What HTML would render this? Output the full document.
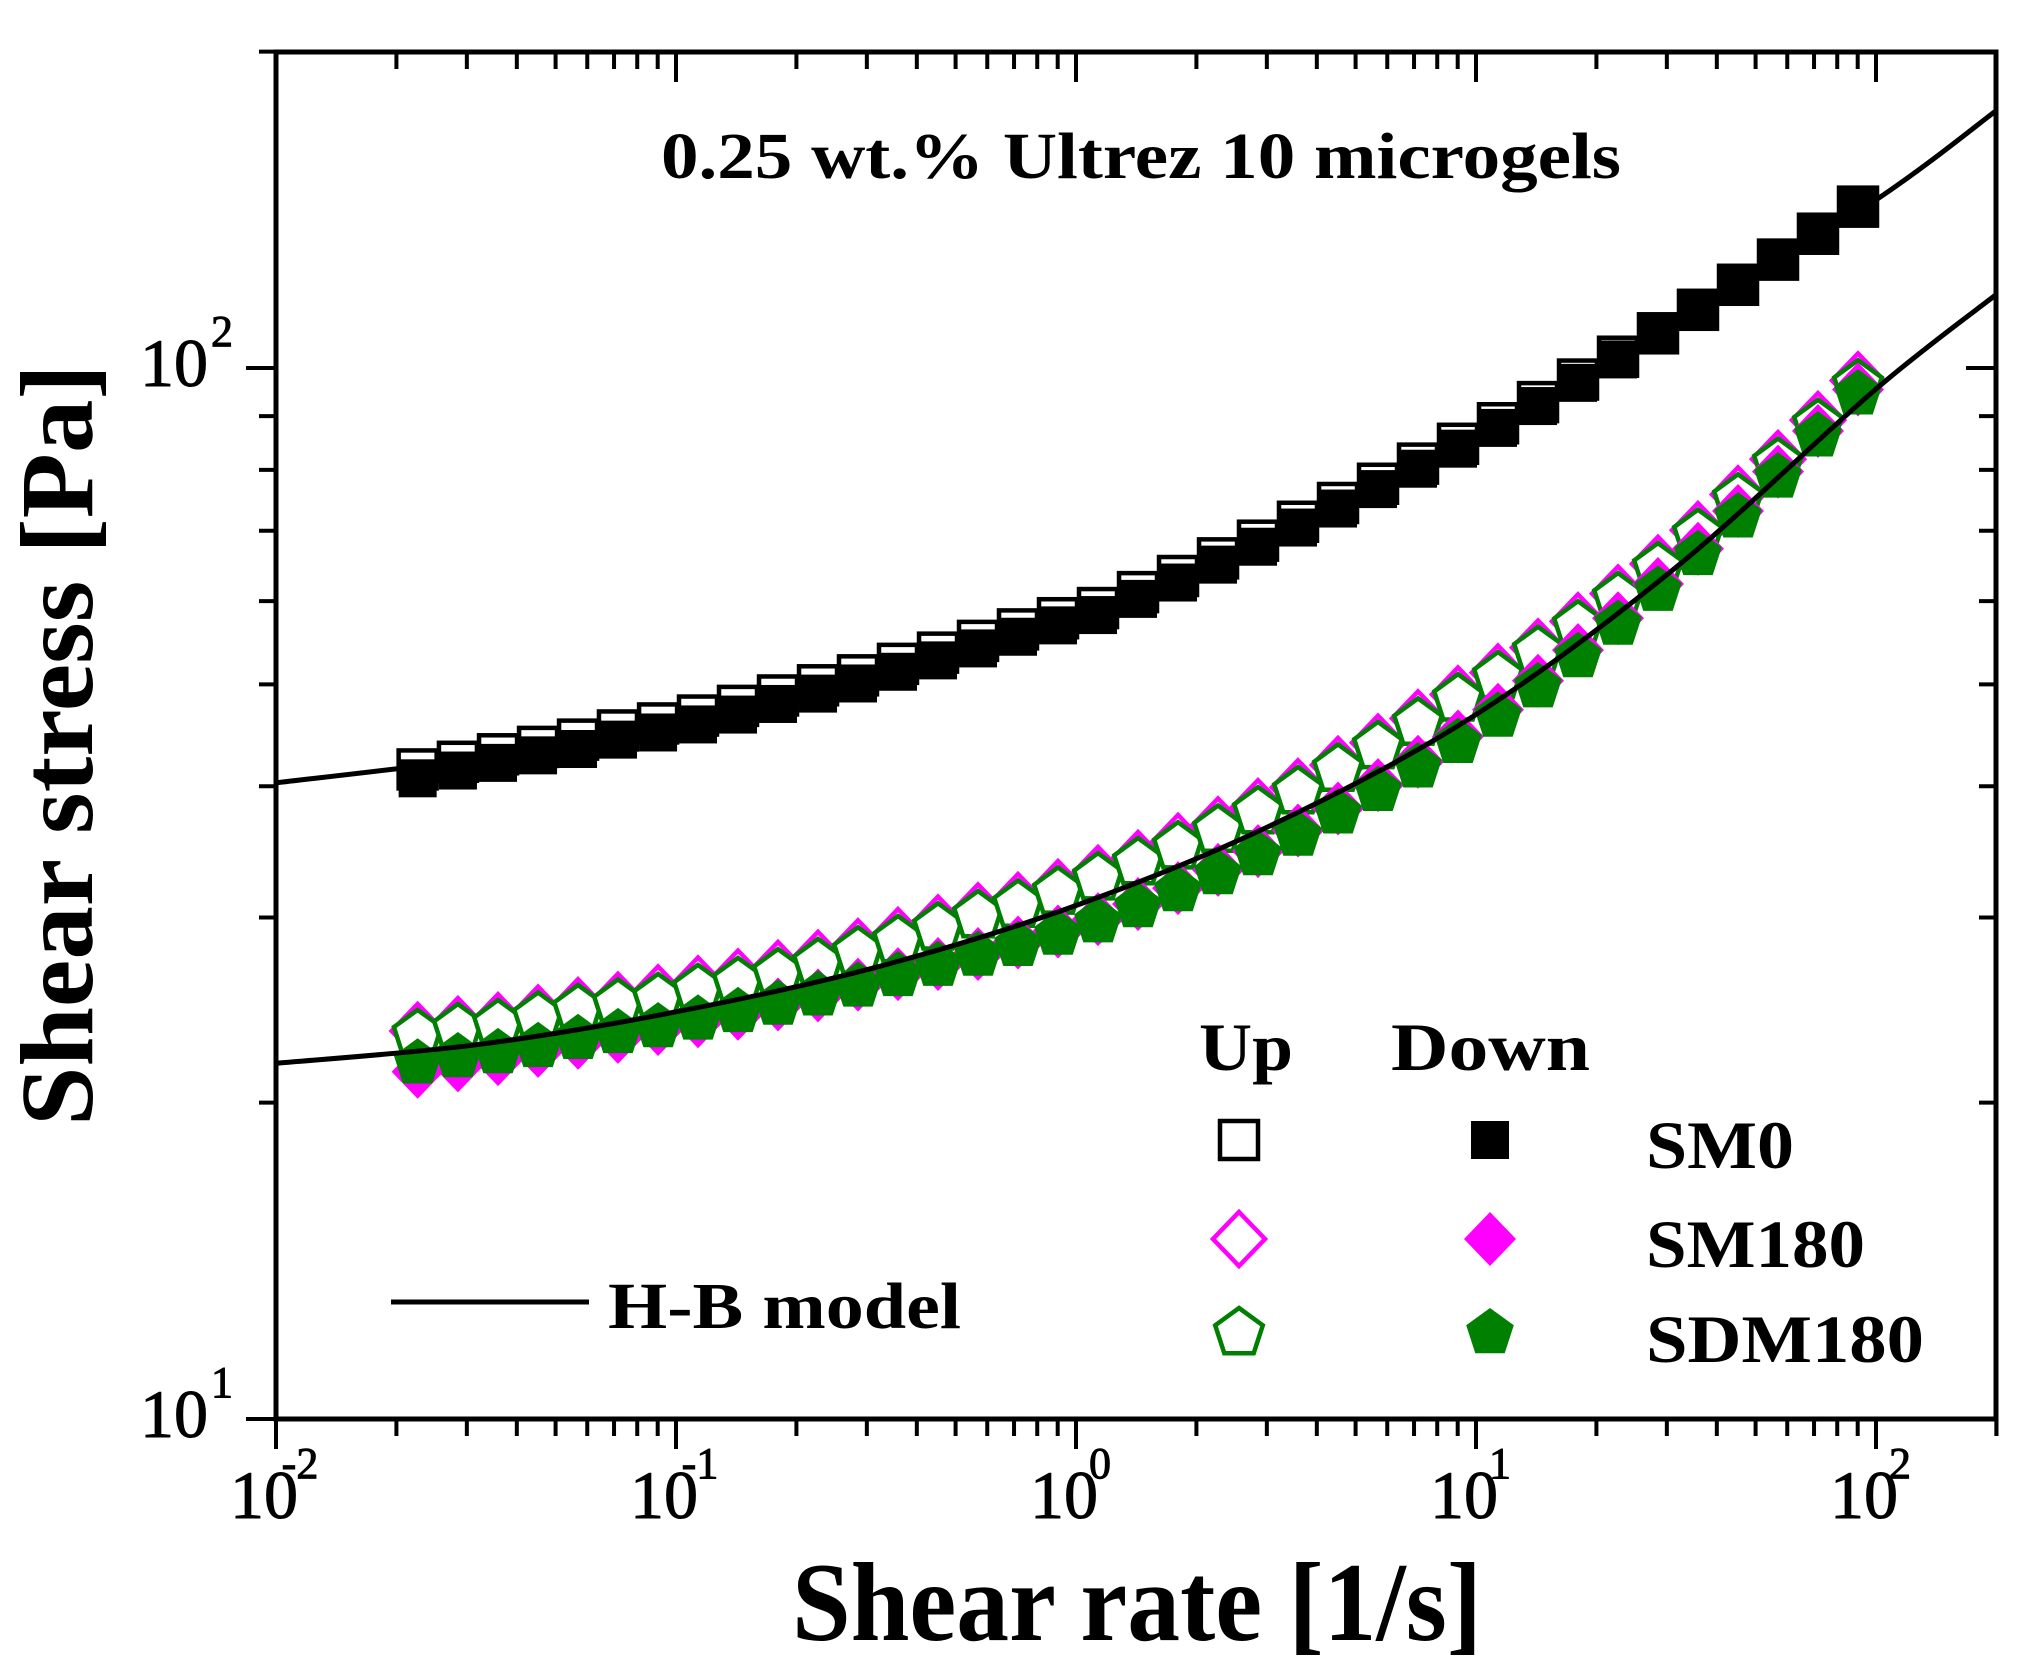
<!DOCTYPE html>
<html><head><meta charset="utf-8"><style>
html,body{margin:0;padding:0;background:#fff;}
svg{display:block;}
text{font-family:"Liberation Serif",serif;fill:#000;}
.tl{stroke:#000;stroke-width:1;}
</style></head><body>
<svg id="chart" width="2021" height="1676" viewBox="0 0 2021 1676" xmlns="http://www.w3.org/2000/svg">
<rect width="2021" height="1676" fill="#fff"/>
<g id="series"></g>
<g id="axes"></g>
<text x="1141" y="178" font-size="66" font-weight="bold" text-anchor="middle" textLength="960" lengthAdjust="spacingAndGlyphs">0.25 wt.% Ultrez 10 microgels</text>
<text x="1137" y="1640" font-size="112" font-weight="bold" text-anchor="middle" textLength="690" lengthAdjust="spacingAndGlyphs">Shear rate [1/s]</text>
<text transform="translate(92,745) rotate(-90)" font-size="104" font-weight="bold" text-anchor="middle" textLength="762" lengthAdjust="spacingAndGlyphs">Shear stress [Pa]</text>
<g>
<line x1="391" y1="1302" x2="589" y2="1302" stroke="#000" stroke-width="5"/>
<text x="608" y="1328" font-size="66" font-weight="bold" textLength="353" lengthAdjust="spacingAndGlyphs">H-B model</text>
<text x="1199" y="1070" font-size="68" font-weight="bold" textLength="94" lengthAdjust="spacingAndGlyphs">Up</text>
<text x="1391" y="1070" font-size="68" font-weight="bold" textLength="199" lengthAdjust="spacingAndGlyphs">Down</text>
<text x="1646" y="1168" font-size="68" font-weight="bold" textLength="148" lengthAdjust="spacingAndGlyphs">SM0</text>
<text x="1646" y="1267" font-size="68" font-weight="bold" textLength="219" lengthAdjust="spacingAndGlyphs">SM180</text>
<text x="1646" y="1362" font-size="68" font-weight="bold" textLength="278" lengthAdjust="spacingAndGlyphs">SDM180</text>
<g id="legmarks"></g>
</g>
</svg>
<script>
const shearRate=[0.0226,0.0285,0.0359,0.0452,0.0569,0.0716,0.0902,0.1135,0.1429,0.1799,0.2265,0.2851,0.3589,0.4519,0.5689,0.7161,0.9016,1.135,1.429,1.799,2.265,2.851,3.589,4.519,5.689,7.161,9.016,11.35,14.29,17.99,22.65,28.51,35.89,45.19,56.89,71.61,90.16];
const sm0Up=[41.5,42.2,42.9,43.6,44.3,45.2,45.9,46.7,47.7,48.8,49.9,51.0,52.3,53.6,55.0,56.4,57.8,59.1,61.2,63.4,65.9,68.5,71.4,74.4,77.6,81.1,84.7,88.6,92.8,97.5,102.5,107.9,113.6,120.0,126.8,134.2,142.4];
const sm0Down=[40.7,41.4,42.1,42.8,43.4,44.3,45.0,45.8,46.8,47.9,49.0,50.1,51.4,52.7,54.1,55.5,56.9,58.2,60.3,62.5,65.0,67.6,70.5,73.5,76.7,80.2,83.8,87.7,92.0,96.8,101.9,107.4,113.2,119.7,126.5,134.0,142.2];
const sm180Up=[23.4,23.7,23.9,24.3,24.7,25.0,25.4,25.9,26.3,26.8,27.4,28.1,28.8,29.6,30.4,31.1,32.0,33.0,34.1,35.4,36.7,38.2,39.9,41.9,44.0,46.4,48.9,51.3,54.2,57.4,61.0,65.1,70.1,75.8,81.9,89.2,97.3];
const sm180Down=[21.4,21.7,22.0,22.4,22.8,23.1,23.5,23.9,24.3,24.8,25.3,25.9,26.5,27.1,27.7,28.4,29.1,29.9,30.9,32.0,33.3,34.7,36.3,38.1,40.1,42.2,44.6,47.3,50.4,53.9,57.8,62.3,67.3,73.1,79.7,87.1,95.4];
const sdm180Up=[23.2,23.5,23.7,24.1,24.5,24.8,25.1,25.6,26.0,26.5,27.1,27.8,28.5,29.3,30.1,30.8,31.7,32.7,33.8,35.0,36.3,37.8,39.5,41.5,43.6,45.9,48.4,50.8,53.7,56.8,60.4,64.5,69.4,75.0,81.1,88.3,96.3];
const sdm180Down=[21.8,22.1,22.3,22.6,23.0,23.3,23.6,24.0,24.4,24.8,25.3,25.8,26.4,27.0,27.6,28.2,28.9,29.7,30.7,31.8,33.0,34.4,35.9,37.7,39.6,41.7,44.0,46.6,49.7,53.1,57.0,61.4,66.4,72.1,78.7,86.1,94.4];
const modelRate=[0.01,0.0316,0.1,0.316,1,3.16,10,31.6,100,200];
const modelSM0=[40.3,42.5,45.7,50.5,57.5,68.4,85.1,109.6,144.5,175.8];
const modelSM180=[21.8,22.7,24.4,26.9,30.8,36.9,46.8,64.6,95.5,117.5];
const xTickLabels=["-2","-1","0","1","2"];
const yTickLabels=["1","2"];

const NS="http://www.w3.org/2000/svg";
const L=276,R=1996,T=52,B=1419;
function X(v){return L+(Math.log10(v)+2)*400;}
function Y(v){return 368+(2-Math.log10(v))*1051;}
function mk(tag,attrs,parent){const e=document.createElementNS(NS,tag);for(const k in attrs)e.setAttribute(k,attrs[k]);parent.appendChild(e);return e;}
const gS=document.getElementById('series'),gA=document.getElementById('axes'),gL=document.getElementById('legmarks');

function shape(type,cx,cy,fill,color,parent){
  let el;
  if(type==='square'){el=mk('rect',{x:cx-19,y:cy-19,width:38,height:38},parent);}
  else if(type==='diamond'){el=mk('polygon',{points:`${cx},${cy-27} ${cx+26},${cy} ${cx},${cy+27} ${cx-26},${cy}`},parent);}
  else {const p=[];for(let i=0;i<5;i++){const a=-Math.PI/2+i*2*Math.PI/5;p.push((cx+25*Math.cos(a)).toFixed(1)+','+(cy+25*Math.sin(a)).toFixed(1));}el=mk('polygon',{points:p.join(' ')},parent);}
  if(fill){el.setAttribute('fill',color);el.setAttribute('stroke','none');}
  else{el.setAttribute('fill','#fff');el.setAttribute('stroke',color);el.setAttribute('stroke-width','4.5');}
  return el;
}
function drawSeries(vals,type,fill,color,name){
  const g=mk('g',{},gS);
  
  
  vals.forEach((v,i)=>{
    const el=shape(type,X(shearRate[i]),Y(v),fill,color,g);
    
    
  });
}
function drawModel(vals,name){
  const pts=modelRate.map((r,i)=>[X(r),Y(vals[i])]);
  let d='M'+pts[0][0]+','+pts[0][1];
  for(let i=0;i<pts.length-1;i++){
    const p0=pts[Math.max(0,i-1)],p1=pts[i],p2=pts[i+1],p3=pts[Math.min(pts.length-1,i+2)];
    const c1=[p1[0]+(p2[0]-p0[0])/6,p1[1]+(p2[1]-p0[1])/6],c2=[p2[0]-(p3[0]-p1[0])/6,p2[1]-(p3[1]-p1[1])/6];
    d+=` C${c1[0]},${c1[1]} ${c2[0]},${c2[1]} ${p2[0]},${p2[1]}`;
  }
  const el=mk('path',{d:d,fill:'none',stroke:'#000','stroke-width':5},gS);
  
  
}
drawSeries(sm0Up,'square',false,'#000','sm0-up-series');
drawSeries(sm0Down,'square',true,'#000','sm0-down-series');
drawSeries(sm180Up,'diamond',false,'#ff00ff','sm180-up-series');
drawSeries(sdm180Up,'pentagon',false,'#008000','sdm180-up-series');
drawSeries(sm180Down,'diamond',true,'#ff00ff','sm180-down-series');
drawSeries(sdm180Down,'pentagon',true,'#008000','sdm180-down-series');
const clip=mk('clipPath',{id:'pc'},document.getElementById('chart'));
mk('rect',{x:L,y:T,width:R-L,height:B-T},clip);
const mg=mk('g',{'clip-path':'url(#pc)'},gS);
drawModel(modelSM0,'hb-model-sm0');
drawModel(modelSM180,'hb-model-sm180');
[...gS.querySelectorAll('path')].forEach(p=>mg.appendChild(p));

const legRows=[['square','#000',1140],['diamond','#ff00ff',1239],['pentagon','#008000',1333]];
legRows.forEach(r=>{
  const a=shape(r[0],1239,r[2],false,r[1],gL);
  
  
  const b=shape(r[0],1490,r[2],true,r[1],gL);
  
  
});

const fr=mk('rect',{x:L,y:T,width:R-L,height:B-T,fill:'none',stroke:'#000','stroke-width':5},gA);


for(let e=-2;e<=2;e++){
  for(let m=1;m<=9;m++){
    const v=m*Math.pow(10,e); if(v>200)break;
    const x=X(v),len=m===1?30:17;
    mk('line',{x1:x,y1:B,x2:x,y2:B+len,stroke:'#000','stroke-width':4},gA);
    mk('line',{x1:x,y1:T,x2:x,y2:T+len,stroke:'#000','stroke-width':4},gA);
  }
}
mk('line',{x1:X(200),y1:B,x2:X(200),y2:B+17,stroke:'#000','stroke-width':4},gA);
xTickLabels.forEach((lab,i)=>{
  const x=X(Math.pow(10,i-2));
  const t=mk('text',{x:x-12,y:1518,'font-size':68,'text-anchor':'middle','class':'tl'},gA);
  
  
  t.textContent='10';
  const s=mk('text',{x:x+24,y:1478,'font-size':44,'text-anchor':'middle','class':'tl'},gA);
  
  
  s.textContent=lab;
});
for(let e=1;e<=2;e++){
  for(let m=1;m<=9;m++){
    const v=m*Math.pow(10,e); if(v>200)break;
    const y=Y(v),len=m===1?30:17;
    mk('line',{x1:L,y1:y,x2:L-len,y2:y,stroke:'#000','stroke-width':4},gA);
    mk('line',{x1:R,y1:y,x2:R-len,y2:y,stroke:'#000','stroke-width':4},gA);
  }
}
yTickLabels.forEach((lab,i)=>{
  const y=Y(Math.pow(10,i+1));
  const t=mk('text',{x:208,y:y+18,'font-size':68,'text-anchor':'end','class':'tl'},gA);
  
  
  t.textContent='10';
  const s=mk('text',{x:211,y:y-22,'font-size':44,'class':'tl'},gA);
  
  
  s.textContent=lab;
});
</script>
</body></html>
